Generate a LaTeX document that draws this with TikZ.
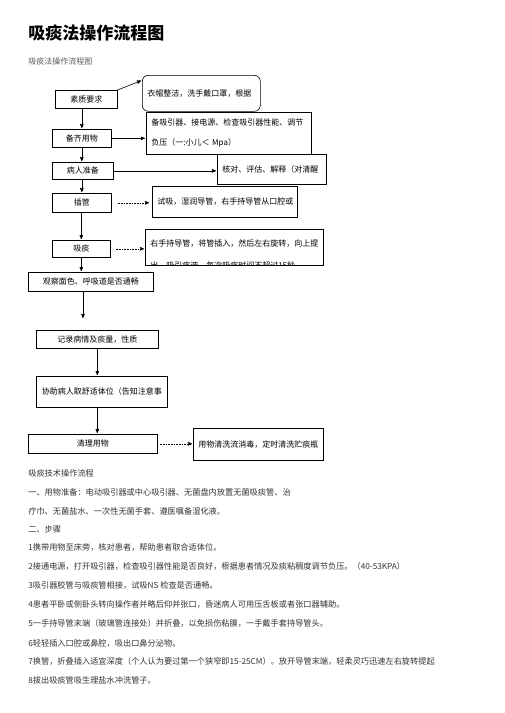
\documentclass[tikz,border=0pt]{standalone}
\usepackage{fontspec}
\setmainfont{Noto Sans CJK SC}
\usetikzlibrary{arrows}
\definecolor{bodygray}{HTML}{333333}

\begin{document}
\begin{tikzpicture}[x=1pt,y=-1pt,->,>=stealth',shorten >=1pt,semithick]
  \tikzstyle{every node}=[font=\fontsize{8}{9.6}\selectfont]
  \tikzstyle{box}=[draw,anchor=north west,inner sep=0pt]
  \tikzstyle{note}=[draw,fill=white,anchor=north west,align=left,inner xsep=5pt,inner ysep=0pt]
  \tikzstyle{line}=[anchor=west,inner sep=0pt,text=bodygray,font=\fontsize{8.2}{9.8}\selectfont]
  \useasboundingbox (0,0) rectangle (504,713);

  \node[anchor=west,inner sep=0pt,font=\fontsize{17}{20}\selectfont\bfseries] (title) at (28,33) {吸痰法操作流程图};
  \node[anchor=west,inner sep=0pt,text=black!65] (sub) at (28,61) {吸痰法操作流程图};

  \node[box,minimum width=62pt,minimum height=18pt]  (b1) at (55,90)  {素质要求};
  \node[box,minimum width=59pt,minimum height=18pt]  (b2) at (52,129) {备齐用物};
  \node[box,minimum width=61pt,minimum height=17pt]  (b3) at (52,162) {病人准备};
  \node[box,minimum width=59pt,minimum height=19pt]  (b4) at (52,193) {插管};
  \node[box,minimum width=58pt,minimum height=17pt]  (b5) at (52,240) {吸痰};
  \node[box,minimum width=125pt,minimum height=19pt] (b6) at (28,272) {观察面色、呼吸道是否通畅};
  \node[box,minimum width=122pt,minimum height=18pt] (b7) at (36,330) {记录病情及痰量，性质};
  \node[box,minimum width=131pt,minimum height=31pt] (b8) at (36,376) {协助病人取舒适体位（告知注意事};
  \node[box,minimum width=129pt,minimum height=19pt] (b9) at (28,434) {清理用物};

  \node[note,rounded corners=6pt,text width=108pt,minimum height=36pt] (r1) at (142,75) {衣帽整洁，洗手戴口罩，根据};
  \node[note,text width=155pt,minimum height=42pt] (r2) at (146,112) {备吸引器、接电源、检查吸引器性能、调节\\[10pt]负压（一:小儿＜ Mpa）};
  \node[note,text width=99pt,minimum height=30pt]  (r3) at (217,154) {核对、评估、解释（对清醒};
  \node[note,text width=135pt,minimum height=31pt] (r4) at (152,186) {试吸，湿润导管，右手持导管从口腔或};
  \node[note,text width=168pt,minimum height=36pt] (r5) at (145,229) {};
  \node[anchor=west,inner sep=0pt] (r5a) at (150,244) {右手持导管，将管插入，然后左右旋转，向上提};
  \begin{scope}
    \clip (r5.north west) rectangle (r5.south east);
    \node[anchor=west,inner sep=0pt] (r5b) at (150,266) {出，吸引痰液，每次吸痰时间不超过15秒};
  \end{scope}
  \node[note,text width=120pt,minimum height=32pt] (r9) at (193,428) {用物清洗流消毒，定时清洗贮痰瓶};

  \coordinate (g7) at (83,319);

  \path (b1.north east)   edge ([yshift=13pt]r1.west)
        (b1.south -| b2.north) edge (b2.north)
        (b2.south)        edge (b2.south |- b3.north)
        (b3.south -| b4.north) edge (b4.north)
        (b4.south -| b5.north) edge (b5.north)
        (b5.south)        edge (b5.south |- b6.north)
        (b6.south -| g7)  edge (g7)
        (b7.south)        edge (b7.south |- b8.north)
        (b8.south -| b7.south) edge (b9.north -| b7.south)
        (b2.east)         edge (b2.east -| r2.west)
        (b3.east)         edge (b3.east -| r3.west)
        (b4.east)         edge[densely dotted,shorten <=6pt,shorten >=3pt] (b4.east -| r4.west)
        (b5.east)         edge[densely dotted,shorten <=5pt] (b5.east -| r5.west)
        (b9.east)         edge[densely dotted,shorten <=2pt] (b9.east -| r9.west);

  \node[line] (t1)  at (28,473) {吸痰技术操作流程};
  \node[line] (t2)  at (28,492) {一、用物准备：电动吸引器或中心吸引器、无菌盘内放置无菌吸痰管、治};
  \node[line] (t3)  at (28,511) {疗巾、无菌盐水、一次性无菌手套、遵医嘱备湿化液。};
  \node[line] (t4)  at (28,529) {二、步骤};
  \node[line] (t5)  at (28,547) {1携带用物至床旁，核对患者，帮助患者取合适体位。};
  \node[line] (t6)  at (28,566) {2接通电源，打开吸引器，检查吸引器性能是否良好，根据患者情况及痰粘稠度调节负压。（40-53KPA）};
  \node[line] (t7)  at (28,585) {3吸引器胶管与吸痰管相接，试吸NS 检查是否通畅。};
  \node[line] (t8)  at (28,604) {4患者平卧或侧卧头转向操作者并略后仰并张口，昏迷病人可用压舌板或者张口器辅助。};
  \node[line] (t9)  at (28,623) {5一手持导管末端（玻璃管连接处）并折叠，以免损伤粘膜，一手戴手套持导管头。};
  \node[line] (t10) at (28,643) {6轻轻插入口腔或鼻腔，吸出口鼻分泌物。};
  \node[line] (t11) at (28,661) {7换管，折叠插入适宜深度（个人认为要过第一个狭窄即15-25CM）。放开导管末端，轻柔灵巧迅速左右旋转提起};
  \node[line] (t12) at (28,680) {8拔出吸痰管吸生理盐水冲洗管子。};
\end{tikzpicture}
\end{document}
